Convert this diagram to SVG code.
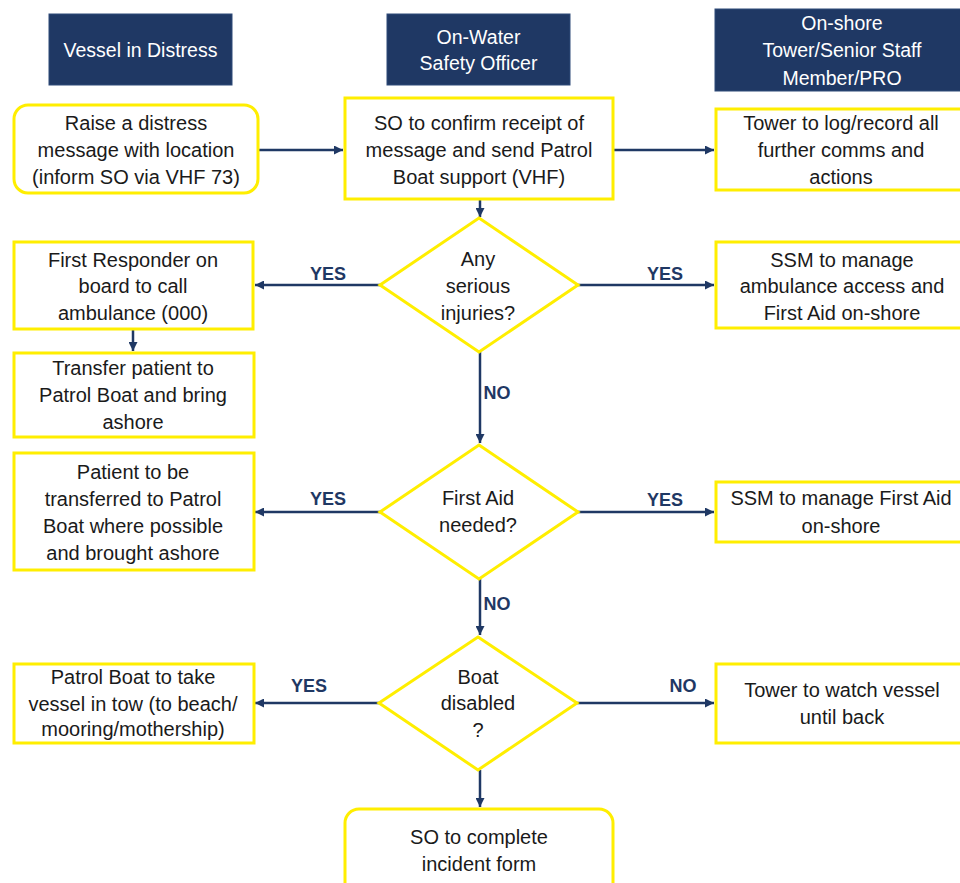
<svg xmlns="http://www.w3.org/2000/svg" width="960" height="883" viewBox="0 0 960 883">
<style>
.hdr{fill:#1F3864;stroke:#2F4A78;stroke-width:1}
.ht{fill:#FFFFFF;font-family:"Liberation Sans",Arial,sans-serif;font-size:19.5px;text-anchor:middle}
.box{fill:#FFFFFF;stroke:#FFEE00;stroke-width:3}
.t{fill:#1A1A1A;font-family:"Liberation Sans",Arial,sans-serif;font-size:20px;text-anchor:middle}
.lbl{fill:#1F3864;font-family:"Liberation Sans",Arial,sans-serif;font-size:18px;font-weight:bold;text-anchor:middle}
.c{stroke:#1F3864;stroke-width:2.5;fill:none;marker-end:url(#ah)}
</style>
<defs>
<marker id="ah" viewBox="0 0 10 10" refX="10" refY="5" markerUnits="userSpaceOnUse" markerWidth="9" markerHeight="9" orient="auto">
<path d="M0,0 L10,5 L0,10 z" fill="#1F3864"/>
</marker>
</defs>
<rect width="960" height="883" fill="#FFFFFF"/>

<g id="header-vessel">
<rect class="hdr" x="49" y="14" width="183" height="71"/>
<text class="ht" x="140.5" y="57">Vessel in Distress</text>
</g>
<g id="header-safety-officer">
<rect class="hdr" x="387" y="14" width="183" height="71"/>
<text class="ht" x="478.5" y="44">On-Water</text>
<text class="ht" x="478.5" y="70">Safety Officer</text>
</g>
<g id="header-onshore">
<rect class="hdr" x="715" y="9" width="255" height="82"/>
<text class="ht" x="842" y="30">On-shore</text>
<text class="ht" x="842" y="57">Tower/Senior Staff</text>
<text class="ht" x="842" y="85">Member/PRO</text>
</g>

<g id="connectors">
<line class="c" x1="258" y1="150" x2="343" y2="150"/>
<line class="c" x1="613" y1="150" x2="714" y2="150"/>
<line class="c" x1="480" y1="199" x2="480" y2="217"/>
<line class="c" x1="380" y1="285" x2="255" y2="285"/>
<line class="c" x1="578" y1="285" x2="714" y2="285"/>
<line class="c" x1="133" y1="329" x2="133" y2="351"/>
<line class="c" x1="480" y1="352" x2="480" y2="443"/>
<line class="c" x1="380" y1="512" x2="255" y2="512"/>
<line class="c" x1="578" y1="512" x2="714" y2="512"/>
<line class="c" x1="480" y1="579" x2="480" y2="635"/>
<line class="c" x1="379" y1="703" x2="255" y2="703"/>
<line class="c" x1="577" y1="703" x2="714" y2="703"/>
<line class="c" x1="480" y1="770" x2="480" y2="807"/>
<text class="lbl" x="328" y="280">YES</text>
<text class="lbl" x="665" y="280">YES</text>
<text class="lbl" x="497" y="399">NO</text>
<text class="lbl" x="328" y="505">YES</text>
<text class="lbl" x="665" y="506">YES</text>
<text class="lbl" x="497" y="610">NO</text>
<text class="lbl" x="309" y="692">YES</text>
<text class="lbl" x="683" y="692">NO</text>
</g>

<g id="raise-distress">
<rect class="box" x="14" y="105" width="244" height="88" rx="14"/>
<text class="t" x="136" y="130">Raise a distress</text>
<text class="t" x="136" y="157">message with location</text>
<text class="t" x="136" y="184">(inform SO via VHF 73)</text>
</g>
<g id="so-confirm">
<rect class="box" x="345" y="98" width="268" height="101"/>
<text class="t" x="479" y="130">SO to confirm receipt of</text>
<text class="t" x="479" y="157">message and send Patrol</text>
<text class="t" x="479" y="184">Boat support (VHF)</text>
</g>
<g id="tower-log">
<rect class="box" x="716" y="109" width="254" height="81"/>
<text class="t" x="841" y="130">Tower to log/record all</text>
<text class="t" x="841" y="157">further comms and</text>
<text class="t" x="841" y="184">actions</text>
</g>

<g id="any-injuries">
<polygon class="box" points="479,218 578,285 479,352 380,285"/>
<text class="t" x="478" y="266">Any</text>
<text class="t" x="478" y="293">serious</text>
<text class="t" x="478" y="320">injuries?</text>
</g>
<g id="first-responder">
<rect class="box" x="14" y="242" width="239" height="87"/>
<text class="t" x="133" y="267">First Responder on</text>
<text class="t" x="133" y="293">board to call</text>
<text class="t" x="133" y="320">ambulance (000)</text>
</g>
<g id="transfer-patient">
<rect class="box" x="14" y="353" width="240" height="84"/>
<text class="t" x="133" y="375">Transfer patient to</text>
<text class="t" x="133" y="402">Patrol Boat and bring</text>
<text class="t" x="133" y="429">ashore</text>
</g>
<g id="ssm-ambulance">
<rect class="box" x="716" y="242" width="254" height="86"/>
<text class="t" x="842" y="267">SSM to manage</text>
<text class="t" x="842" y="293">ambulance access and</text>
<text class="t" x="842" y="320">First Aid on-shore</text>
</g>

<g id="first-aid-needed">
<polygon class="box" points="479,445 578,512 479,579 380,512"/>
<text class="t" x="478" y="505">First Aid</text>
<text class="t" x="478" y="532">needed?</text>
</g>
<g id="patient-transfer">
<rect class="box" x="14" y="453" width="240" height="117"/>
<text class="t" x="133" y="479">Patient to be</text>
<text class="t" x="133" y="506">transferred to Patrol</text>
<text class="t" x="133" y="533">Boat where possible</text>
<text class="t" x="133" y="560">and brought ashore</text>
</g>
<g id="ssm-first-aid">
<rect class="box" x="716" y="482" width="254" height="60"/>
<text class="t" x="841" y="505">SSM to manage First Aid</text>
<text class="t" x="841" y="533">on-shore</text>
</g>

<g id="boat-disabled">
<polygon class="box" points="478,637 577,703 478,770 379,703"/>
<text class="t" x="478" y="684">Boat</text>
<text class="t" x="478" y="710">disabled</text>
<text class="t" x="478" y="737">?</text>
</g>
<g id="patrol-tow">
<rect class="box" x="14" y="664" width="240" height="79"/>
<text class="t" x="133" y="684">Patrol Boat to take</text>
<text class="t" x="133" y="711">vessel in tow (to beach/</text>
<text class="t" x="133" y="736">mooring/mothership)</text>
</g>
<g id="tower-watch">
<rect class="box" x="716" y="664" width="254" height="79"/>
<text class="t" x="842" y="697">Tower to watch vessel</text>
<text class="t" x="842" y="724">until back</text>
</g>
<g id="incident-form">
<rect class="box" x="345" y="809" width="268" height="100" rx="14"/>
<text class="t" x="479" y="844">SO to complete</text>
<text class="t" x="479" y="871">incident form</text>
</g>
</svg>
